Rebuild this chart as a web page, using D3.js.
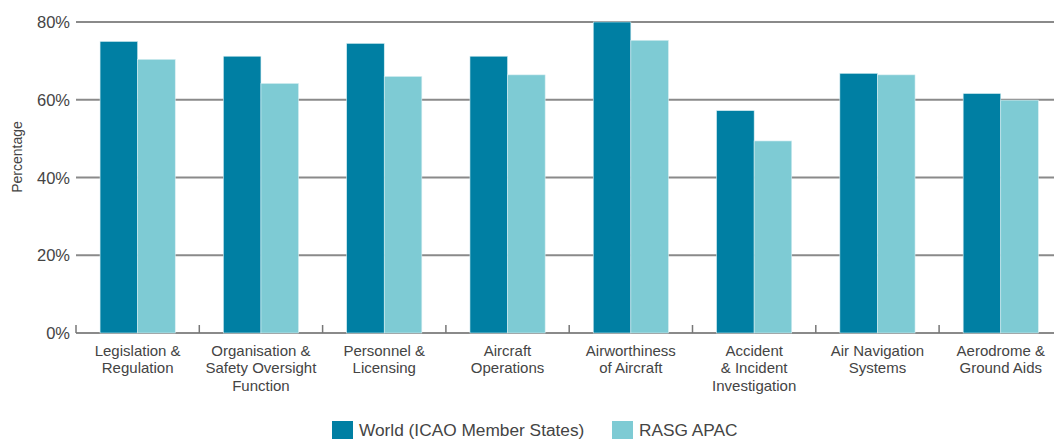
<!DOCTYPE html>
<html>
<head>
<meta charset="utf-8">
<script src="https://cdn.jsdelivr.net/npm/d3@7"></script>
<style>
  body { margin: 0; background: #fff; }
  text { font-family: "Liberation Sans", Arial, sans-serif; fill: #444; }
</style>
</head>
<body>
<svg id="chart"></svg>
<script>
var categories = [
    ["Legislation &", "Regulation"],
    ["Organisation &", "Safety Oversight", "Function"],
    ["Personnel &", "Licensing"],
    ["Aircraft", "Operations"],
    ["Airworthiness", "of Aircraft"],
    ["Accident", "& Incident", "Investigation"],
    ["Air Navigation", "Systems"],
    ["Aerodrome &", "Ground Aids"]
];
var seriesNames = ["World (ICAO Member States)", "RASG APAC"];
var worldValues = [75.0, 71.2, 74.5, 71.2, 80.0, 57.2, 66.8, 61.6];
var apacValues = [70.4, 64.2, 66.0, 66.4, 75.3, 49.4, 66.4, 59.9];
var yTicks = [0, 20, 40, 60, 80];

var colors = ["#007fa3", "#7ecbd4"];

var width = 1054;
var height = 439;
var margin = {top: 22, left: 76, bottom: 106};

var svg = d3.select("#chart")
    .attr("width", width)
    .attr("height", height);

var step = 123.3;
var x0 = d3.scaleBand()
    .domain(d3.range(categories.length))
    .range([margin.left, margin.left + step * categories.length]);

var x1 = d3.scaleBand()
    .domain([0, 1])
    .range([0, x0.bandwidth()])
    .paddingOuter(0.64);

var y = d3.scaleLinear()
    .domain([0, 80])
    .range([height - margin.bottom, margin.top]);

// grid lines
svg.append("g")
    .selectAll("line")
    .data(yTicks)
    .enter().append("line")
    .attr("x1", margin.left)
    .attr("x2", width)
    .attr("y1", function(d) { return y(d); })
    .attr("y2", function(d) { return y(d); })
    .attr("stroke", "#8a8a8a")
    .attr("stroke-width", 2);

// y labels
svg.append("g")
    .selectAll("text")
    .data(yTicks)
    .enter().append("text")
    .attr("x", margin.left - 6)
    .attr("y", function(d) { return y(d) + 6; })
    .attr("text-anchor", "end")
    .style("font-size", "16.5px")
    .text(function(d) { return d + "%"; });

svg.append("text")
    .attr("transform", "translate(22,157) rotate(-90)")
    .attr("text-anchor", "middle")
    .style("font-size", "14px")
    .text("Percentage");

// category boundary ticks
svg.append("g")
    .selectAll("line")
    .data(d3.range(categories.length + 1))
    .enter().append("line")
    .attr("x1", function(i) { return margin.left + i * step; })
    .attr("x2", function(i) { return margin.left + i * step; })
    .attr("y1", y(0) - 8)
    .attr("y2", y(0))
    .attr("stroke", "#777")
    .attr("stroke-width", 1.5);

var data = categories.map(function(c, i) {
    return [worldValues[i], apacValues[i]];
});

var groups = svg.append("g")
    .selectAll("g")
    .data(data)
    .enter().append("g")
    .attr("transform", function(d, i) { return "translate(" + x0(i) + ",0)"; });

groups.selectAll("rect")
    .data(function(d) { return d; })
    .enter().append("rect")
    .attr("x", function(d, j) { return x1(j); })
    .attr("width", x1.bandwidth())
    .attr("y", function(d) { return y(d); })
    .attr("height", function(d) { return y(0) - y(d); })
    .attr("fill", function(d, j) { return colors[j]; })
    .attr("stroke", "#d8eef2")
    .attr("stroke-width", 0.6);

// category labels
var labels = svg.append("g")
    .selectAll("text")
    .data(categories)
    .enter().append("text")
    .attr("text-anchor", "middle")
    .attr("x", function(d, i) { return x0(i) + x0.bandwidth() / 2; })
    .attr("y", y(0) + 23)
    .style("font-size", "15px");

labels.selectAll("tspan")
    .data(function(d) { return d; })
    .enter().append("tspan")
    .attr("x", function() { return d3.select(this.parentNode).attr("x"); })
    .attr("dy", function(d, k) { return k === 0 ? 0 : 17.3; })
    .text(function(d) { return d; });

// legend
var legendX = [332, 612];
var legend = svg.append("g")
    .selectAll("g")
    .data(seriesNames)
    .enter().append("g")
    .attr("transform", function(d, i) { return "translate(" + legendX[i] + ",421)"; });

legend.append("rect")
    .attr("width", 21)
    .attr("height", 21)
    .attr("fill", function(d, i) { return colors[i]; });

legend.append("text")
    .attr("x", 27)
    .attr("y", 15)
    .style("font-size", "17.3px")
    .text(function(d) { return d; });
</script>
</body>
</html>
